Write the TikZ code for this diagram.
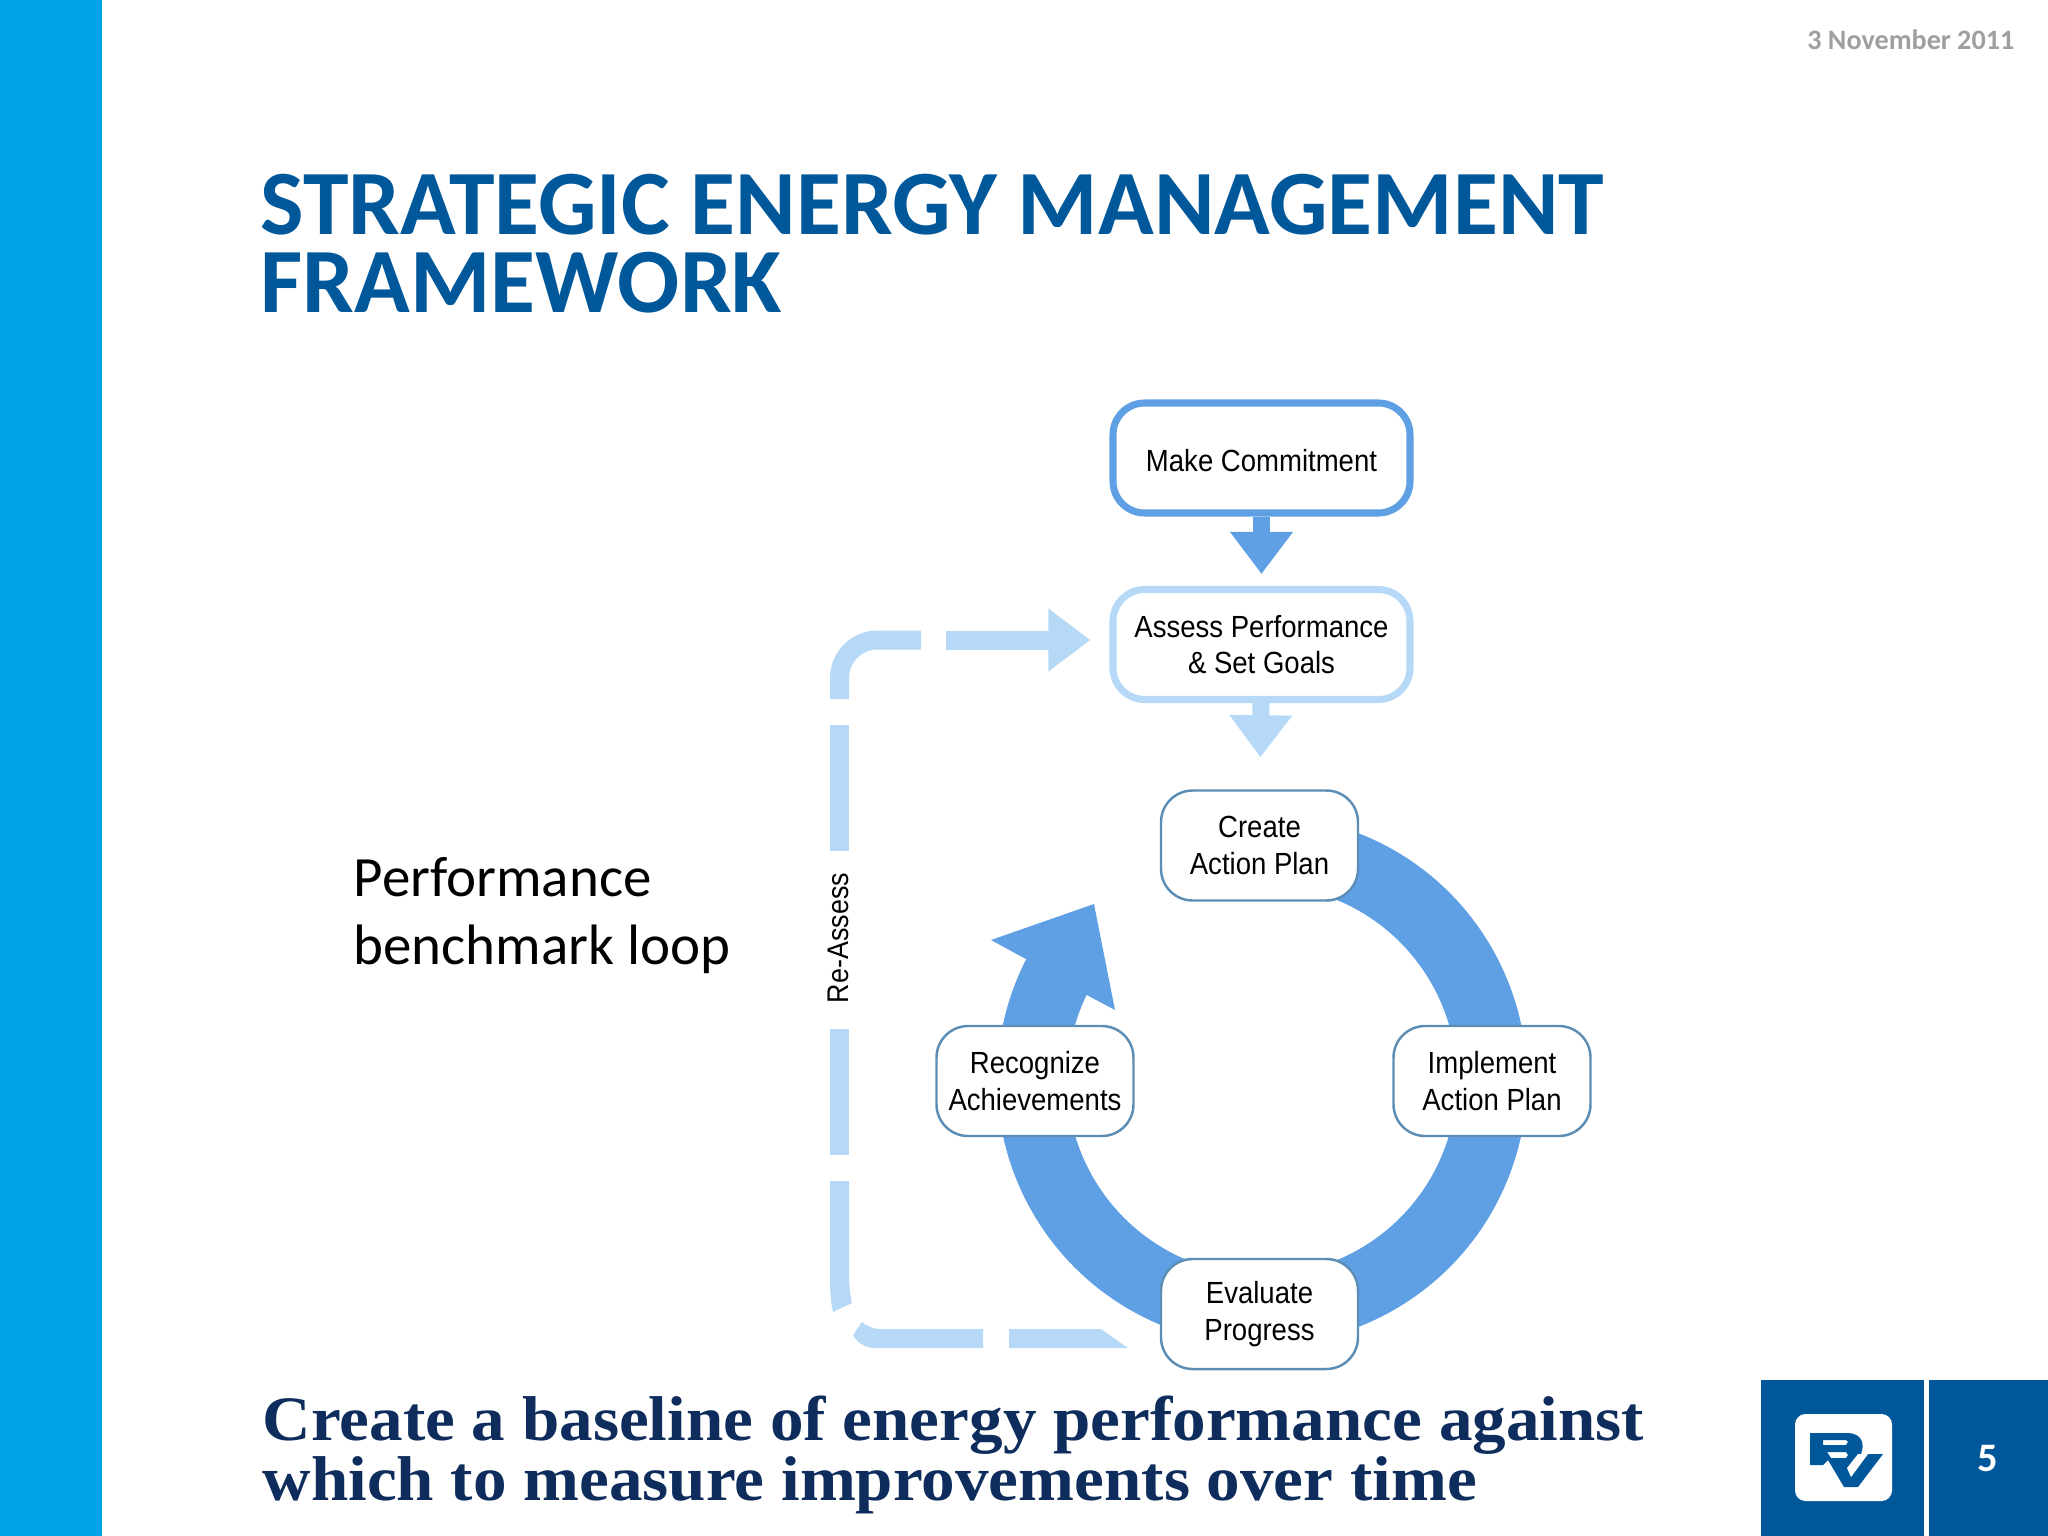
\documentclass[tikz,border=0pt]{standalone}
\usepackage{fontspec}
\setmainfont{Carlito}
\newfontfamily\boxfont[FakeStretch=0.9]{Liberation Sans}
\newfontfamily\footfont[FakeStretch=1.06]{Liberation Serif}
\usetikzlibrary{arrows.meta}
\definecolor{barblue}{HTML}{00A3E8}
\definecolor{rvblue}{HTML}{00589B}
\definecolor{navy}{HTML}{0F2D5C}
\definecolor{midblue}{HTML}{5F9FE4}
\definecolor{paleblue}{HTML}{B5D9F7}
\definecolor{edgeblue}{HTML}{5C8DB5}

\begin{document}
\begin{tikzpicture}[x=0.01cm, y=-0.01cm, every node/.style={font=\boxfont\fontsize{8.7}{10.4}\selectfont}]
  % Styles
  \tikzset{
    stepbox/.style = {draw=edgeblue, line width=0.7pt, fill=white, rounded corners=9pt, minimum width=197*0.01cm, minimum height=110*0.01cm, align=center, inner sep=0pt, execute at begin node={\rule{0pt}{7.8pt}}},
    topbox/.style = {stepbox, line width=2pt, minimum width=297*0.01cm, minimum height=110*0.01cm},
    slabel/.style = {inner sep=0pt, anchor=north west, align=left},
    flow/.style = {line width=17*0.01cm, -{Triangle[length=42*0.01cm, width=60*0.01cm]}},
    reassess/.style = {paleblue, line width=19*0.01cm}
  }
  \useasboundingbox (0,0) rectangle (2048,1536);

  % Slide furniture
  \fill[barblue] (0,0) rectangle (102,1536);
  \fill[rvblue] (1761,1380) rectangle (1924,1536);
  \fill[rvblue] (1929,1380) rectangle (2048,1536);
  \fill[white, rounded corners=3pt] (1795,1414) rectangle (1892,1501);

  % Logo
  \fill[rvblue, even odd rule] (1810,1433) -- (1847,1433) .. controls (1862,1433) and (1865,1444) .. (1861,1454) -- (1883,1454) -- (1858,1487) -- (1844,1487) -- (1828,1460) -- (1823,1465) -- (1810,1465) -- cycle
    (1823,1440) -- (1846,1440) -- (1848,1442) -- (1846,1445) -- (1823,1445) -- cycle
    (1827,1452) -- (1846,1452) -- (1848,1455) -- (1846,1458) -- (1831,1458) -- cycle;
  \fill[white] (1851,1477) -- (1868,1454) -- (1858,1454) -- (1847,1468) -- cycle;

  % Texts
  \node[slabel, anchor=base east, text=gray!75, font=\bfseries\fontsize{8}{9}\selectfont] (datelabel) at (2015,49) {3 November 2011};
  \node[slabel, text=rvblue, font=\bfseries\fontsize{26.15}{22.3}\selectfont] (titlelabel) at (260,173) {STRATEGIC ENERGY MANAGEMENT\\FRAMEWORK};
  \node[slabel, font=\fontsize{16.2}{19.3}\selectfont] (benchlabel) at (353,857) {Performance\\benchmark loop};
  \node[slabel, text=navy, font=\footfont\bfseries\fontsize{18}{17.1}\selectfont] (footlabel) at (262,1395) {Create a baseline of energy performance against\\which to measure improvements over time};
  \node[text=white, font=\bfseries\fontsize{11.5}{13}\selectfont] (pagelabel) at (1988,1459) {5};
  \node[text=rvblue, font=\fontsize{3.5}{4}\selectfont, inner sep=0pt] (reglabel) at (1899,1497) {®};
  \node[rotate=90, font=\boxfont\fontsize{8.5}{10}\selectfont, inner sep=0pt] (reassesslabel) at (838,938) {Re-Assess};

  % Cycle ring
  \coordinate (ringstart) at (1340.7,863.9);
  \coordinate (headleft) at (991,940);
  \coordinate (headtip) at (1094,904);
  \coordinate (headright) at (1115,1010);
  \coordinate (notchinner) at (1083,993);
  \coordinate (notchouter) at (1024,958);
  \draw[midblue, line width=70*0.01cm] (ringstart) arc[start angle=-70, end angle=212, radius=230];
  \fill[midblue] (headleft) -- (headtip) -- (headright) -- (notchinner) -- (notchouter) -- cycle;

  % Boxes
  \node[topbox, draw=midblue] (commit) at (1261.5,458) {Make Commitment};
  \node[topbox, draw=paleblue] (assess) at (1261.5,644.5) {Assess Performance\\\& Set Goals};
  \node[stepbox] (create) at (1259.5,845.5) {Create\\Action Plan};
  \node[stepbox] (recognize) at (1035,1081) {Recognize\\Achievements};
  \node[stepbox] (implement) at (1492,1081) {Implement\\Action Plan};
  \node[stepbox] (evaluate) at (1259.5,1314) {Evaluate\\Progress};

  % Arrows
  \draw[flow, midblue, shorten >=12*0.01cm] (commit) -- (assess);
  \draw[flow, paleblue, shorten >=32*0.01cm] (assess) -- (create);

  % Re-assess path
  \coordinate (reassessgap) at (946,640);
  \draw[reassess, rounded corners=38*0.01cm] (921,640) -- (839.5,640) -- (839.5,699);
  \draw[reassess] (839.5,725) -- (839.5,851);
  \draw[reassess] (839.5,1029) -- (839.5,1155);
  \fill[paleblue] (830,1181) -- (849,1181) -- (849,1270) .. controls (849,1285) and (850,1295) .. (852,1303) -- (833,1312) .. controls (830,1300) and (830,1285) .. (830,1270) -- cycle;
  \fill[paleblue] (862,1322) -- (853,1335) .. controls (858,1344) and (866,1348) .. (876,1348) -- (983,1348) -- (983,1329) -- (880,1329) .. controls (873,1329) and (867,1326) .. (862,1322) -- cycle;
  \fill[paleblue] (1009,1329) -- (1101,1329) -- (1128,1348) -- (1009,1348) -- cycle;
  \draw[flow, paleblue, line width=19*0.01cm, shorten >=19*0.01cm] (reassessgap) -- (reassessgap -| assess.west);

\end{tikzpicture}
\end{document}
